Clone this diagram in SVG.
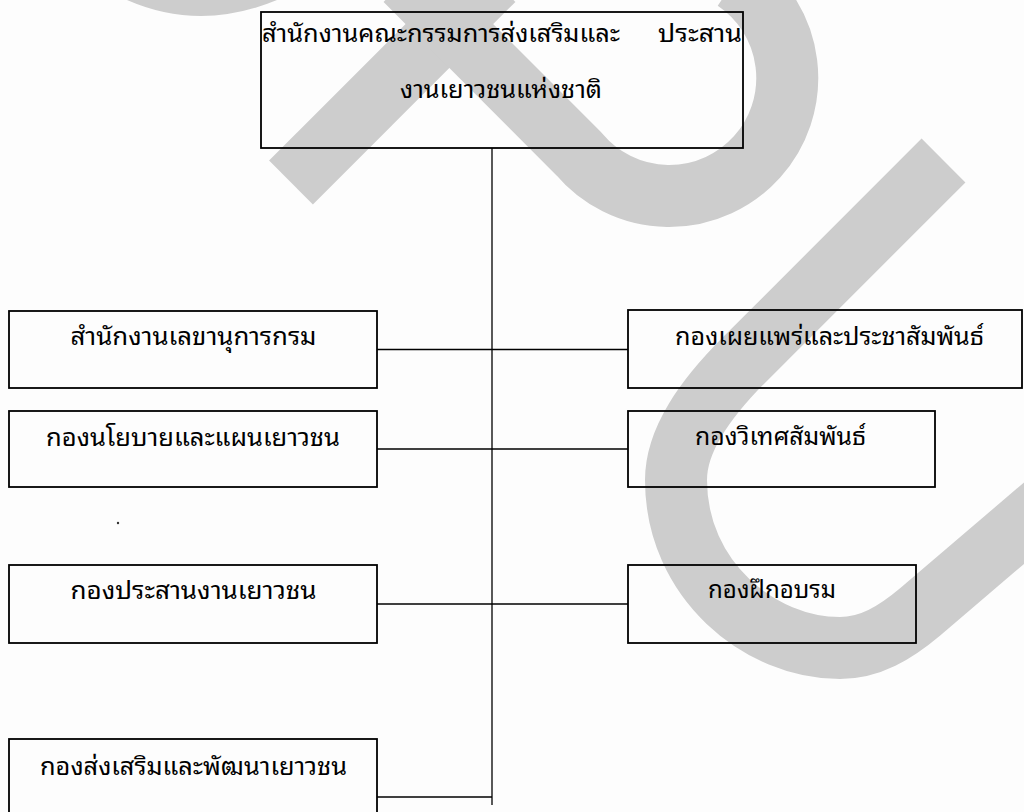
<svg xmlns="http://www.w3.org/2000/svg" width="1024" height="812" viewBox="0 0 1024 812">
<style>
.wm{fill:none;stroke:#cdcdcd;stroke-width:62;stroke-linecap:butt;stroke-linejoin:round}
.box{fill:none;stroke:#000;stroke-width:1.8}
.lbl{font-family:"Noto Sans Thai Looped","Loma","Garuda","Waree","Noto Sans Thai","Noto Sans","DejaVu Sans",sans-serif;font-size:24px;fill:#000}
.conn line{stroke:#000;stroke-width:1.3}
</style>
<rect width="1024" height="812" fill="#fdfdfd"/>
<g id="watermark">
<path d="M127 0 Q200 32 277 0 Z" fill="#cdcdcd"/>
<path class="wm" d="M291 182.5 L493.5 -20"/>
<path class="wm" d="M405.5 -20 L579 154 A118 118 0 1 0 735 -20"/>
<path class="wm" d="M943.5 160.5 L745 359 C705 399 676 440 676 480 C676 580 760 648 840 648 C870 648 895 633 920 612 L1050 501"/>
<circle cx="118" cy="523" r="1.2" fill="#333"/>
</g>
<g class="conn" id="connectors">
<line x1="492" y1="148" x2="492" y2="805"/>
<line x1="377" y1="349.5" x2="628" y2="349.5"/>
<line x1="377" y1="449" x2="628" y2="449"/>
<line x1="377" y1="604" x2="628" y2="604"/>
<line x1="377" y1="797" x2="492" y2="797"/>
</g>
<g id="root">
<rect class="box" x="261" y="12" width="482" height="136"/>
<text class="lbl" x="262" y="42" textLength="358" lengthAdjust="spacingAndGlyphs">สำนักงานคณะกรรมการส่งเสริมและ</text>
<text class="lbl" x="658" y="42" textLength="84" lengthAdjust="spacingAndGlyphs">ประสาน</text>
<text class="lbl" x="400" y="98" textLength="202" lengthAdjust="spacingAndGlyphs">งานเยาวชนแห่งชาติ</text>
</g>
<g id="l1">
<rect class="box" x="9" y="311" width="368" height="77"/>
<text class="lbl" x="70.5" y="345" textLength="246" lengthAdjust="spacingAndGlyphs">สำนักงานเลขานุการกรม</text>
</g>
<g id="l2">
<rect class="box" x="9" y="411" width="368" height="76"/>
<text class="lbl" x="46" y="446" textLength="294" lengthAdjust="spacingAndGlyphs">กองนโยบายและแผนเยาวชน</text>
</g>
<g id="l3">
<rect class="box" x="9" y="565" width="368" height="78"/>
<text class="lbl" x="70.5" y="599" textLength="246" lengthAdjust="spacingAndGlyphs">กองประสานงานเยาวชน</text>
</g>
<g id="l4">
<rect class="box" x="9" y="739" width="368" height="90"/>
<text class="lbl" x="40" y="775" textLength="307" lengthAdjust="spacingAndGlyphs">กองส่งเสริมและพัฒนาเยาวชน</text>
</g>
<g id="r1">
<rect class="box" x="628" y="310" width="394" height="78"/>
<text class="lbl" x="675" y="345" textLength="309" lengthAdjust="spacingAndGlyphs">กองเผยแพร่และประชาสัมพันธ์</text>
</g>
<g id="r2">
<rect class="box" x="628" y="411" width="307" height="76"/>
<text class="lbl" x="695" y="445" textLength="171" lengthAdjust="spacingAndGlyphs">กองวิเทศสัมพันธ์</text>
</g>
<g id="r3">
<rect class="box" x="628" y="565" width="288" height="78"/>
<text class="lbl" x="708" y="598" textLength="128" lengthAdjust="spacingAndGlyphs">กองฝึกอบรม</text>
</g>
</svg>
